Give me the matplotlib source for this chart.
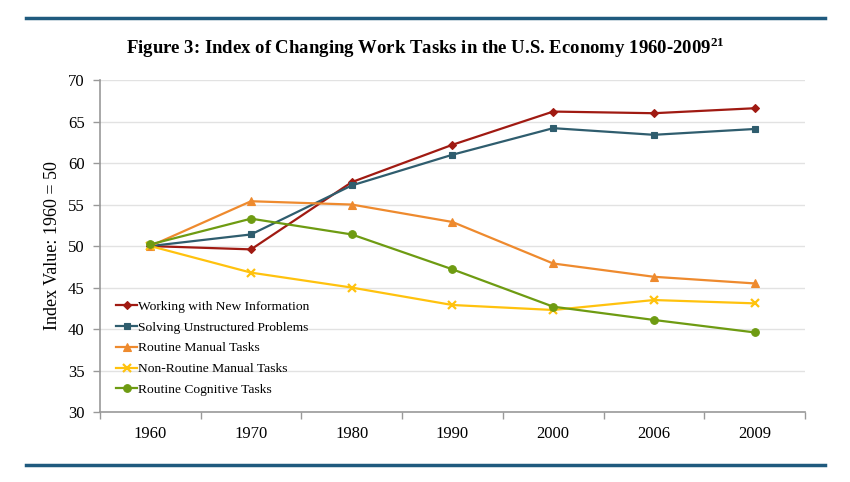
import matplotlib
matplotlib.use("Agg")
from matplotlib import pyplot as plt
import numpy as np

years = ["1960", "1970", "1980", "1990", "2000", "2006", "2009"]

new_info = [50.0, 49.6, 57.7, 62.2, 66.2, 66.0, 66.6]
unstructured = [50.0, 51.4, 57.3, 61.0, 64.2, 63.4, 64.1]
routine_manual = [50.0, 55.4, 55.0, 52.9, 47.9, 46.3, 45.5]
nonroutine_manual = [50.0, 46.8, 45.0, 42.9, 42.3, 43.5, 43.1]
routine_cognitive = [50.2, 53.3, 51.4, 47.2, 42.7, 41.1, 39.6]

series = [
    ("Working with New Information", new_info, "#A01A12", "D", 4.5),
    ("Solving Unstructured Problems", unstructured, "#2F5D6E", "s", 5),
    ("Routine Manual Tasks", routine_manual, "#EE8A2E", "^", 5.5),
    ("Non-Routine Manual Tasks", nonroutine_manual, "#FFC20E", "x", 6),
    ("Routine Cognitive Tasks", routine_cognitive, "#6E9B12", "o", 5.5),
]

plt.rcParams['font.family'] = ['Liberation Serif', 'DejaVu Serif']
plt.rcParams['mathtext.fontset'] = 'custom'
plt.rcParams['mathtext.rm'] = 'Liberation Serif'
plt.rcParams['mathtext.bf'] = 'Liberation Serif:bold'

fig = plt.figure(figsize=(8.5, 4.82), dpi=100)
ax = fig.add_axes([0.1176, 0.145, 0.8294, 0.689])

x = np.arange(len(years))
for label, vals, color, marker, ms in series:
    ax.plot(x, vals, color=color, marker=marker, markersize=ms, linewidth=1.6,
            markeredgewidth=1.6 if marker == "x" else 0.8, label=label)

ax.set_xlim(-0.5, len(years) - 0.5)
ax.set_ylim(30, 70)
ax.set_yticks(range(30, 71, 5))
ax.set_xticks(x)
ax.set_xticklabels(years, fontsize=12)
ax.set_xticks(np.arange(-0.5, len(years)), minor=True)
ax.tick_params(axis='x', which='major', length=0, pad=10)
ax.tick_params(axis='x', which='minor', length=5, color="#999999", width=1)
ax.tick_params(axis='y', labelsize=12, length=5, color="#999999", width=1, pad=6)
ax.grid(axis='y', color="#E2E2E2", linewidth=1)
ax.set_axisbelow(True)
for side in ("top", "right"):
    ax.spines[side].set_visible(False)
for side in ("left", "bottom"):
    ax.spines[side].set_color("#999999")
    ax.spines[side].set_linewidth(1.2)

ax.set_ylabel("Index Value: 1960 = 50", fontsize=13, labelpad=5)

ax.legend(loc="lower left", bbox_to_anchor=(0.01, 0.02), frameon=False,
          fontsize=9.7, handlelength=1.5, handletextpad=0.1,
          labelspacing=0.62, borderaxespad=0.3)

fig.text(0.5, 0.902, r"Figure 3: Index of Changing Work Tasks in the U.S. Economy 1960-2009$^{\mathbf{21}}$",
         ha="center", va="center", fontsize=13.5, fontweight="bold")

# blue rules at top and bottom
fig.add_artist(plt.Line2D([0.03, 0.97], [0.963, 0.963], color="#1F5A7E", linewidth=2.5))
fig.add_artist(plt.Line2D([0.03, 0.97], [0.035, 0.035], color="#1F5A7E", linewidth=2.5))

fig.savefig("out.png", dpi=100)
